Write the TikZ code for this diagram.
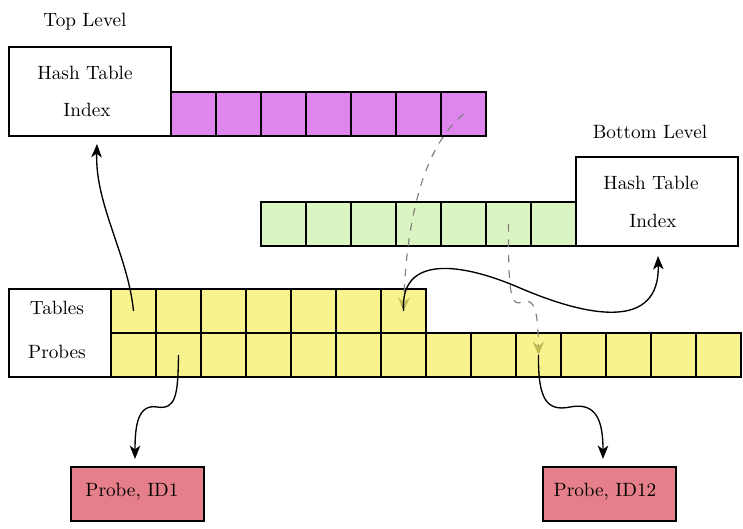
\documentclass[tikz,border=0pt]{standalone}
\usetikzlibrary{arrows.meta}
\definecolor{magcell}{RGB}{222,134,238}
\definecolor{greencell}{RGB}{219,244,196}
\definecolor{yelcell}{RGB}{249,243,143}
\definecolor{probefill}{RGB}{229,127,138}
\definecolor{olivetip}{RGB}{196,186,84}
\tikzset{
  cell/.style={draw=black, line width=0.7pt, minimum width=23.4pt, minimum height=22.9pt, inner sep=0pt, outer sep=0pt},
  bigbox/.style={draw=black, fill=white, line width=0.7pt, inner sep=0pt, outer sep=0pt},
  lbl/.style={inner sep=0pt, font=\normalsize},
  probebox/.style={draw=black, fill=probefill, line width=0.7pt, minimum width=69.2pt, minimum height=28.1pt, inner sep=0pt},
  conn/.style={line width=0.7pt, -{Stealth[length=7pt,width=5.5pt,inset=2pt]}},
  dconn/.style={draw=black!50, line width=0.6pt, dash pattern=on 4pt off 4pt, -{Stealth[length=7pt,width=6pt,inset=2.5pt,color=olivetip]}}
}
\begin{document}
\begin{tikzpicture}[x=0.52pt, y=-0.52pt]
\useasboundingbox (0,0) rectangle (743,529);
% top level
\node[lbl] (toplbl) at (85,22) {Top Level};
\node[bigbox, minimum width=84.24pt, minimum height=46.3pt] (topbox) at (90,91.5) {};
\node[lbl] (toph) at (85,73) {Hash Table};
\node[lbl] (topi) at (87,110) {Index};
\foreach \i in {1,...,7} {
  \node[cell, fill=magcell] (m\i) at ({193.5+45*(\i-1)},114) {};
}
% bottom level
\node[lbl] (botlbl) at (650,132) {Bottom Level};
\node[bigbox, minimum width=84.24pt, minimum height=46.3pt] (botbox) at (657,201.5) {};
\node[lbl] (both) at (651,183) {Hash Table};
\node[lbl] (boti) at (653,221) {Index};
\foreach \i in {1,...,7} {
  \node[cell, fill=greencell] (g\i) at ({283.5+45*(\i-1)},224) {};
}
% tables / probes
\node[bigbox, minimum width=53.04pt, minimum height=45.76pt] (tpbox) at (60,333) {};
\node[lbl] (tlbl) at (57,308) {Tables};
\node[lbl] (plbl) at (57,352) {Probes};
\foreach \i in {1,...,7} {
  \node[cell, fill=yelcell] (t\i) at ({133.5+45*(\i-1)},311) {};
}
\foreach \i in {1,...,14} {
  \node[cell, fill=yelcell] (p\i) at ({133.5+45*(\i-1)},355) {};
}
% probe boxes
\node[probebox] (pid1) at (137.5,494) {};
\node[lbl] (pid1t) at (132,492) {Probe, ID1};
\node[probebox] (pid12) at (609.5,494) {};
\node[lbl] (pid12t) at (605,492) {Probe, ID12};
% endpoint coordinates
\coordinate (topin) at (97,144);
\coordinate (botin) at (658,256);
\coordinate (pid1in) at (135,459);
\coordinate (pid12in) at (603,459);
% connectors
\draw[conn] (t1.center) .. controls (128,255) and (95,205) .. (topin);
\draw[conn] (p2.center) .. controls (178,395) and (176,410) .. (157,407)
  .. controls (138,404) and (135,425) .. (pid1in);
\draw[dconn] (m7.center) .. controls (420,150) and (406,230) .. (t7.center);
\draw[conn] (t7.center) .. controls (400,255) and (460,262) .. (520,288)
  .. controls (590,318) and (660,330) .. (botin);
\draw[dconn] (g6.center) .. controls (508,300) and (512,306) .. (522,302)
  .. controls (535,297) and (538,312) .. (p10.center);
\draw[conn] (p10.center) .. controls (538,398) and (546,412) .. (570,407)
  .. controls (596,402) and (603,420) .. (pid12in);
\end{tikzpicture}
\end{document}
